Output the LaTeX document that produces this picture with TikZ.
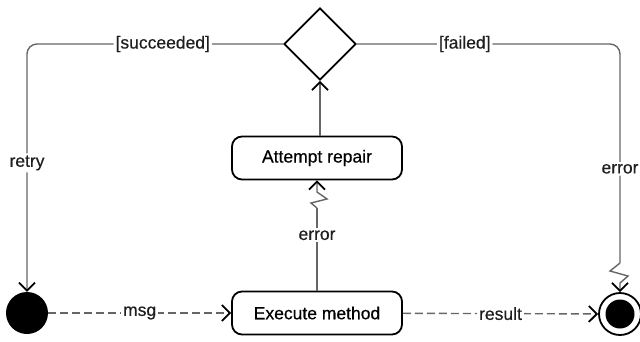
\documentclass[tikz,border=0pt]{standalone}
\usepackage{fontspec}
\setmainfont{Liberation Sans}[FakeBold=0.4]
\usepackage{tikz}
\usetikzlibrary{arrows.meta}
\usetikzlibrary{shapes.geometric}

\tikzset{
  action/.style = {draw, line width=1.8pt, rounded corners=10pt, fill=white,
                   minimum width=170pt, minimum height=43pt, inner sep=0pt},
  choice/.style = {draw, diamond, line width=1.8pt, minimum width=72pt,
                   minimum height=72pt, inner sep=0pt},
  conn/.style   = {draw=black!60, line width=1.4pt,
                   >={Straight Barb[length=8pt, width=16pt, line width=1.8pt, black]}},
  dconn/.style  = {conn, dash pattern=on 8pt off 4pt},
  lbl/.style    = {fill=white, text=black!88, inner sep=2pt},
}

\begin{document}
\begin{tikzpicture}[x=1pt, y=-1pt, font=\fontsize{17.5}{20}\selectfont]
\useasboundingbox (0,0) rectangle (640,341);

\node[choice] (dec) at (320,44) {};
\node[action] (repair) at (317,158) {Attempt repair};
\node[action] (exec) at (317,313) {Execute method};
\node[circle, fill=black, minimum size=42pt, inner sep=0pt] (init) at (27,313) {};
\node[circle, draw, line width=1.8pt, minimum size=42pt, inner sep=0pt] (fin) at (620,314) {};
\node[circle, fill=black, minimum size=29pt, inner sep=0pt] (finin) at (fin) {};

\coordinate (zzR) at (620,263);
\coordinate (zzL) at (317,208);

% flow along the bottom
\draw[dconn,->] (init) -- node[lbl]{msg} (exec);
\draw[dconn,->] (exec) -- node[lbl]{result} (fin);

% error path
\draw[conn] (exec.north) -- node[lbl, pos=0.67]{error} (zzL);
\draw[conn,->] (zzL) -- ++(-6,-5) -- ++(16,-4) -- ++(-10,-7) -- (repair.south);
\draw[conn,->] (repair.north -| dec.south) -- (dec.south);

% decision
\draw[conn,->, rounded corners=10pt] (dec.west) -- node[lbl, pos=0.47]{[succeeded]} (dec.west -| init)
  -- node[lbl, pos=0.48]{retry} (init.north);
\draw[conn, rounded corners=10pt] (dec.east) -- node[lbl, pos=0.41]{[failed]} (dec.east -| fin)
  -- node[lbl, pos=0.57]{error} (zzR);
\draw[conn,->] (zzR) -- ++(-10,8) -- ++(18,5) -- ++(-8,7) -- (fin.north);
\end{tikzpicture}
\end{document}
